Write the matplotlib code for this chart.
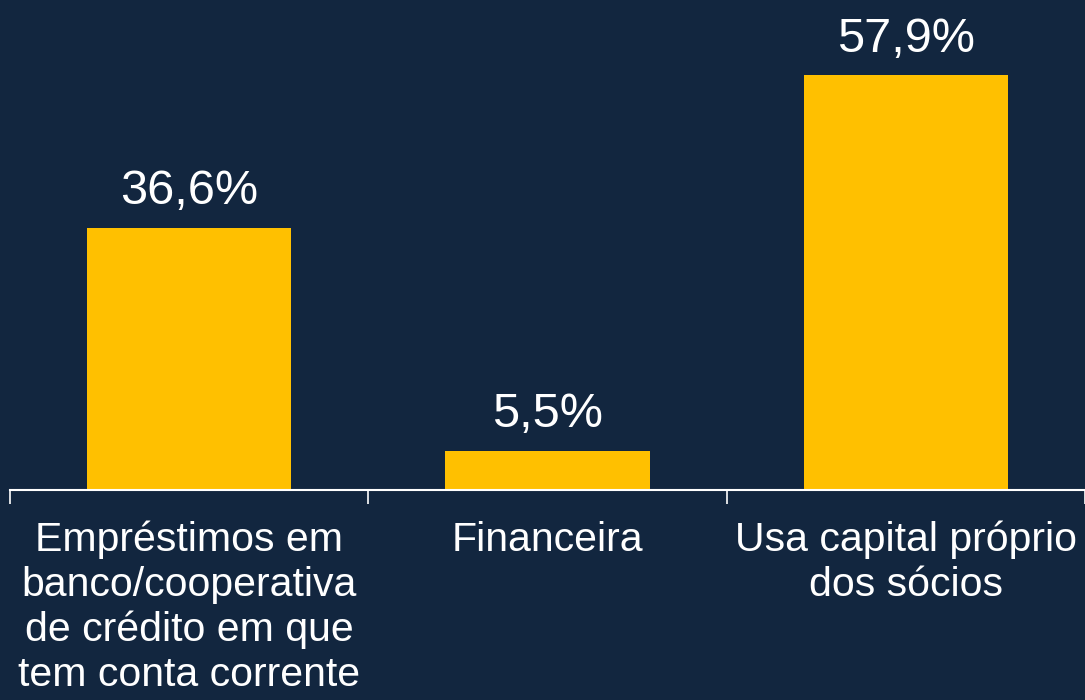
import matplotlib.pyplot as plt

# dados do gráfico
categorias = ["Empréstimos em\nbanco/cooperativa\nde crédito em que\ntem conta corrente",
              "Financeira",
              "Usa capital próprio\ndos sócios"]
valores = [36.6, 5.5, 57.9]
rotulos = ["36,6%", "5,5%", "57,9%"]

FUNDO = "#12263F"
BARRA = "#FFC000"

plt.rcParams['font.family'] = ['Liberation Sans', 'DejaVu Sans']

fig = plt.figure(figsize=(10.85, 7), dpi=100, facecolor=FUNDO)
ax = fig.add_axes([10 / 1085, 210 / 700, 1075 / 1085, 490 / 700])
ax.set_facecolor(FUNDO)

x = range(len(categorias))
bars = ax.bar(x, valores, width=0.57, color=BARRA)

for b, txt in zip(bars, rotulos):
    ax.text(b.get_x() + b.get_width() / 2, b.get_height() + 1.9, txt,
            ha='center', va='bottom', color='white', fontsize=35)

ax.set_xlim(-0.5, 2.5)
ax.set_ylim(0, 68.4)
ax.set_yticks([])
ax.set_xticks([-0.5, 0.5, 1.5, 2.5])
ax.set_xticklabels([])
ax.tick_params(axis='x', colors='white', length=10, width=1.2, direction='out')

for i, c in enumerate(categorias):
    ax.text(i, -4.3, c, ha='center', va='top', color='white', fontsize=29.5,
            linespacing=1.22)

for s in ['top', 'right', 'left']:
    ax.spines[s].set_visible(False)
ax.spines['bottom'].set_color('white')
ax.spines['bottom'].set_linewidth(1.5)

fig.savefig("out.png", dpi=100, facecolor=FUNDO)
